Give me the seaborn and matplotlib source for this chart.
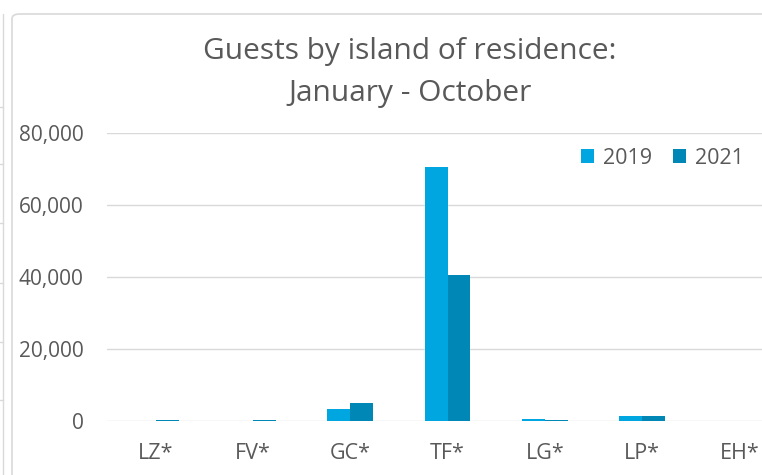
import matplotlib.pyplot as plt
import matplotlib.patches as mpatches
import matplotlib.lines as mlines
import pandas as pd
import seaborn as sns

# Data
islands = ['LZ*', 'FV*', 'GC*', 'TF*', 'LG*', 'LP*', 'EH*']
guests_2019 = [40, 30, 3200, 70500, 500, 1500, 20]
guests_2021 = [150, 250, 5000, 40500, 300, 1500, 100]
years = ['2019', '2021']

df = pd.DataFrame({
    'island': islands * 2,
    'year': [years[0]] * len(islands) + [years[1]] * len(islands),
    'guests': guests_2019 + guests_2021,
})

sns.set_style('white')
plt.rcParams['font.family'] = ['Open Sans', 'DejaVu Sans']

grey = '#595959'
fig = plt.figure(figsize=(7.62, 4.75), dpi=100)
ax = fig.add_axes([107 / 762, 54 / 475, 681 / 762, 288 / 475])

sns.barplot(data=df, x='island', y='guests', hue='year',
            palette=['#00A6E0', '#0087B5'], width=0.47, ax=ax,
            saturation=1, linewidth=0)

ax.set_ylim(0, 80000)
ax.set_yticks([0, 20000, 40000, 60000, 80000])
ax.set_yticklabels([f'{v:,}' for v in [0, 20000, 40000, 60000, 80000]])
ax.grid(axis='y', color='#d9d9d9', linewidth=1)
ax.set_axisbelow(True)
for s in ax.spines.values():
    s.set_visible(False)
ax.tick_params(axis='both', length=0, colors=grey)
ax.tick_params(axis='y', pad=17, labelsize=15)
ax.tick_params(axis='x', pad=16, labelsize=15.5)
ax.set_xlabel('')
ax.set_ylabel('')

fig.text(410 / 762, 1 - 51 / 475, 'Guests by island of residence:', ha='center',
         va='center', fontsize=21.5, color=grey)
fig.text(410 / 762, 1 - 93 / 475, 'January - October', ha='center',
         va='center', fontsize=21.5, color=grey)

leg = ax.legend(loc='center right', bbox_to_anchor=(763 / 762, 1 - 158 / 475),
                bbox_transform=fig.transFigure, ncol=2, frameon=False,
                fontsize=15.5, handlelength=0.6, handleheight=0.6,
                handletextpad=0.4, columnspacing=1.0, labelcolor=grey)

# chart frame and cropped neighbouring table at the left edge
fig.patches.append(mpatches.FancyBboxPatch(
    (12 / 762, -0.05), 1.0, 1 - 14 / 475 + 0.05,
    boxstyle='round,pad=0,rounding_size=0.01', transform=fig.transFigure,
    fill=False, edgecolor='#d9d9d9', linewidth=1.2))
fig.lines.append(mlines.Line2D([2.5 / 762, 2.5 / 762], [0, 1 - 14 / 475],
                               transform=fig.transFigure, color='#d9d9d9', linewidth=1))
for yy in [107, 164, 223, 283, 342, 400]:
    fig.lines.append(mlines.Line2D([0, 2.5 / 762], [1 - yy / 475] * 2,
                                   transform=fig.transFigure, color='#d9d9d9', linewidth=1))

fig.savefig('out.png', dpi=100)
